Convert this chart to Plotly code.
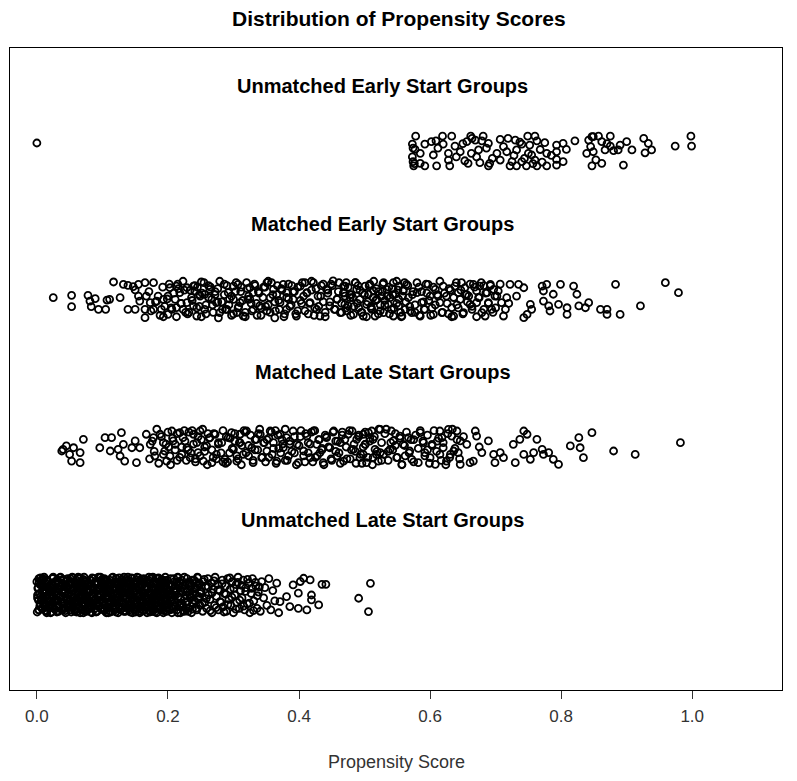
import plotly.graph_objects as go

# ---------------- data: (propensity score, vertical jitter) ----------------
group_labels = ["Unmatched Early Start Groups", "Matched Early Start Groups",
                "Matched Late Start Groups", "Unmatched Late Start Groups"]
group_pos = [4, 3, 2, 1]
label_pos = [4.44, 3.507, 2.507, 1.507]
x_ticks = [0.0, 0.2, 0.4, 0.6, 0.8, 1.0]
x_tick_text = ["0.0", "0.2", "0.4", "0.6", "0.8", "1.0"]

unmatched_early = [
 (0.000,0.054),
 (0.578,0.10),(0.619,0.10),(0.633,0.10),(0.662,0.10),(0.681,0.10),(0.749,0.10),(0.760,0.10),(0.849,0.097),(0.857,0.10),(0.875,0.10),(0.998,0.10),
 (0.573,0.047),(0.592,0.047),(0.602,0.063),(0.609,0.069),(0.620,0.047),(0.638,0.033),(0.656,0.063),(0.669,0.074),(0.679,0.069),(0.689,0.052),
 (0.707,0.078),(0.719,0.085),(0.730,0.074),(0.740,0.047),(0.763,0.069),(0.775,0.056),(0.793,0.040),(0.803,0.052),(0.821,0.069),(0.842,0.074),
 (0.847,0.097),(0.862,0.063),(0.875,0.033),(0.890,0.040),(0.900,0.063),(0.926,0.085),(0.933,0.052),(0.974,0.033),(0.999,0.033),
 (0.577,0.011),(0.585,-0.016),(0.605,-0.027),(0.628,-0.016),(0.646,-0.005),(0.663,-0.016),(0.674,0.007),(0.702,-0.016),(0.717,-0.005),(0.732,0.007),
 (0.750,-0.016),(0.755,-0.027),(0.778,-0.016),(0.793,-0.005),(0.808,0.011),(0.839,-0.016),(0.849,-0.005),(0.867,0.007),(0.880,0.002),(0.887,0.007),
 (0.908,0.007),(0.928,-0.012),(0.938,0.007),
 (0.574,-0.072),(0.585,-0.083),(0.628,-0.061),(0.653,-0.066),(0.676,-0.079),(0.691,-0.083),(0.707,-0.061),(0.725,-0.072),(0.740,-0.072),(0.760,-0.061),
 (0.793,-0.057),(0.803,-0.072),
 (0.575,-0.10),(0.592,-0.10),(0.610,-0.10),(0.630,-0.10),(0.658,-0.083),(0.689,-0.10),(0.722,-0.10),(0.732,-0.10),(0.747,-0.10),(0.763,-0.10),
 (0.778,-0.10),(0.793,-0.095),(0.847,-0.10),(0.862,-0.083),(0.895,-0.095),
 (0.573,-0.04),(0.574,0.02),(0.576,-0.085),(0.664,0.085),(0.671,-0.04),(0.686,0.02),(0.695,-0.05),(0.712,0.03),(0.728,-0.03),(0.737,0.06),
 (0.744,-0.05),(0.752,0.04),(0.757,-0.085),(0.768,0.01),(0.771,-0.075),(0.785,-0.03),(0.845,0.03),(0.853,-0.06),(0.870,0.05),(0.612,0.02),
 (0.640,-0.04),(0.650,0.05),
]

matched_early = [
 (0.025,0.009),(0.053,0.025),(0.053,-0.052),(0.078,0.025),(0.081,-0.014),(0.089,0.002),(0.083,-0.052),(0.094,-0.070),(0.105,-0.070),(0.107,-0.007),
 (0.111,-0.002),(0.127,0.009),(0.117,0.115),(0.132,0.099),(0.139,0.092),(0.147,0.083),(0.155,0.099),(0.165,0.110),(0.150,0.061),(0.155,0.020),
 (0.157,-0.014),(0.167,0.020),(0.173,-0.025),(0.165,-0.070),(0.165,-0.126),(0.139,-0.070),(0.150,-0.070),(0.178,-0.070),(0.183,-0.014),(0.193,-0.002),
 (0.190,-0.070),(0.193,-0.120),(0.200,-0.104),(0.203,0.076),(0.213,0.087),(0.218,0.043),(0.211,-0.002),(0.213,-0.058),(0.223,-0.070),(0.229,0.076),
 (0.239,0.087),(0.251,0.115),(0.241,0.054),(0.249,0.020),(0.256,0.031),(0.264,0.065),(0.229,-0.025),(0.239,-0.047),(0.244,-0.115),(0.256,-0.070),
 (0.267,-0.002),(0.274,-0.025),(0.279,-0.092),(0.277,-0.127),(0.292,0.043),(0.300,0.087),(0.307,0.099),(0.320,0.110),(0.325,0.076),(0.330,0.043),
 (0.322,-0.002),(0.300,-0.002),(0.310,-0.025),(0.290,-0.070),(0.305,-0.092),(0.315,-0.115),(0.330,-0.070),(0.340,-0.047),(0.351,0.110),(0.361,0.065),
 (0.356,0.009),(0.351,-0.081),(0.363,-0.127),(0.376,0.099),(0.381,0.043),(0.371,-0.025),(0.381,-0.070),(0.391,-0.002),(0.396,-0.115),(0.402,0.087),
 (0.412,0.043),(0.422,0.110),(0.417,-0.025),(0.427,-0.070),(0.432,-0.115),(0.442,0.065),(0.452,0.122),(0.458,-0.002),(0.447,-0.047),(0.468,0.087),
 (0.470,0.020),(0.463,-0.092),(0.475,-0.047),
 (0.200,0.02),(0.205,-0.06),(0.215,0.10),(0.220,-0.03),(0.225,0.06),(0.232,-0.09),(0.236,0.01),(0.245,0.08),(0.248,-0.05),(0.252,0.04),
 (0.258,-0.10),(0.262,0.09),(0.268,-0.04),(0.272,0.03),(0.276,0.07),(0.282,-0.02),(0.286,0.10),(0.288,-0.07),(0.294,0.00),(0.297,-0.11),
 (0.303,0.05),(0.308,-0.05),(0.312,0.08),(0.318,-0.09),(0.323,0.02),(0.327,-0.03),(0.333,0.09),(0.336,-0.11),(0.338,0.05),(0.342,-0.06),
 (0.345,0.01),(0.348,0.08),(0.353,-0.04),(0.358,0.11),(0.364,-0.08),(0.366,0.03),(0.369,-0.01),(0.373,0.07),(0.378,-0.10),(0.384,0.00),
 (0.386,-0.05),(0.389,0.09),(0.393,0.05),(0.398,-0.08),(0.404,-0.03),(0.407,0.02),(0.409,0.11),(0.414,-0.10),(0.419,0.06),(0.424,-0.06),
 (0.429,0.02),(0.434,0.09),(0.437,-0.02),(0.440,-0.09),(0.444,0.04),(0.449,0.10),(0.455,-0.07),(0.460,0.05),(0.465,-0.03),(0.472,0.11),
 (0.478,0.03),
 (0.470,0.087),(0.468,0.043),(0.478,0.009),(0.470,-0.036),(0.473,-0.081),(0.486,0.110),(0.488,0.065),(0.493,-0.002),(0.491,-0.059),(0.483,-0.104),
 (0.501,0.087),(0.506,0.032),(0.503,-0.036),(0.498,-0.115),(0.514,0.054),(0.519,-0.002),(0.511,-0.070),(0.516,-0.115),(0.529,0.110),(0.534,0.065),
 (0.526,0.020),(0.539,0.009),(0.544,0.110),(0.552,0.087),(0.547,0.032),(0.536,-0.036),(0.552,-0.047),(0.529,-0.092),(0.544,-0.115),(0.559,0.054),
 (0.564,0.099),(0.567,0.009),(0.562,-0.070),(0.572,-0.092),(0.557,-0.115),(0.580,0.043),(0.587,-0.025),(0.585,-0.115),(0.597,0.099),(0.600,0.020),
 (0.592,-0.070),(0.605,-0.104),(0.608,0.065),(0.615,-0.025),(0.620,0.087),(0.618,-0.092),(0.625,0.020),(0.633,-0.059),(0.638,0.087),(0.643,0.043),
 (0.646,-0.002),(0.636,-0.115),(0.648,0.110),(0.653,0.076),(0.659,0.020),(0.661,-0.036),(0.651,-0.092),(0.666,0.099),(0.671,0.054),(0.676,0.087),
 (0.671,-0.025),(0.679,-0.092),(0.687,0.043),(0.692,0.099),(0.697,0.065),(0.689,-0.025),(0.684,-0.115),(0.694,-0.070),(0.702,0.020),(0.704,0.054),
 (0.709,-0.025),(0.715,-0.070),(0.717,0.009),(0.712,-0.115),(0.722,0.099),(0.735,0.099),(0.743,0.076),(0.732,0.020),(0.753,-0.036),(0.755,-0.070),
 (0.748,-0.104),(0.743,-0.126),(0.771,0.087),(0.778,0.099),(0.773,0.054),(0.788,0.032),(0.799,0.099),(0.819,0.087),(0.824,0.032),(0.773,-0.014),
 (0.781,-0.047),(0.796,-0.036),(0.783,-0.081),(0.809,-0.059),(0.809,-0.104),(0.827,-0.047),(0.842,-0.025),(0.837,-0.059),(0.860,-0.070),(0.870,-0.070),
 (0.870,-0.104),(0.890,-0.104),(0.883,0.099),(0.921,-0.047),(0.959,0.110),(0.979,0.043),
 (0.480,0.03),(0.484,-0.05),(0.490,0.09),(0.495,-0.09),(0.497,0.04),(0.505,-0.02),(0.508,0.10),(0.510,-0.06),(0.513,0.01),(0.518,0.07),
 (0.521,-0.10),(0.524,-0.04),(0.527,0.05),(0.531,-0.01),(0.537,0.08),(0.541,-0.07),(0.543,0.03),(0.549,-0.03),(0.551,0.06),(0.555,-0.09),
 (0.558,0.02),(0.561,0.11),(0.569,-0.05),(0.574,0.05),(0.577,-0.09),(0.583,0.08),(0.590,-0.02),(0.595,0.04),(0.603,-0.06),(0.611,0.03),
 (0.628,-0.10),(0.631,0.06),(0.641,-0.04),(0.656,0.03),(0.664,-0.07),(0.674,0.01),(0.682,0.09),(0.700,-0.06),(0.707,0.10),(0.720,-0.03),
 (0.171,0.05),(0.174,-0.08),(0.178,0.11),(0.181,-0.02),(0.185,0.02),(0.188,-0.11),(0.192,0.08),(0.195,-0.05),(0.199,0.00),(0.202,0.10),
 (0.206,-0.07),(0.209,0.04),(0.213,-0.12),(0.216,0.07),(0.220,-0.03),(0.223,0.12),(0.227,-0.09),
 (0.230,-0.10),(0.234,0.06),(0.237,-0.01),(0.241,0.09),(0.244,-0.06),(0.248,0.03),(0.251,-0.12),(0.255,0.11),(0.258,-0.04),(0.262,0.01),
 (0.265,0.08),(0.269,-0.09),(0.272,0.05),(0.276,-0.02),(0.279,0.12),(0.283,-0.07),(0.286,0.03),
 (0.290,0.09),(0.293,-0.04),(0.297,0.02),(0.300,-0.10),(0.304,0.11),(0.307,-0.06),(0.311,0.05),(0.314,-0.01),(0.318,-0.12),(0.321,0.07),
 (0.325,0.00),(0.328,-0.08),(0.332,0.10),(0.335,-0.03),(0.339,0.04),(0.342,-0.11),(0.346,0.08),
 (0.349,-0.05),(0.353,0.12),(0.356,-0.09),(0.360,0.03),(0.363,-0.02),(0.367,0.09),(0.370,-0.07),(0.374,0.06),(0.377,-0.12),(0.381,0.01),
 (0.384,0.10),(0.388,-0.04),(0.391,0.05),(0.395,-0.10),(0.398,0.08),(0.402,-0.01),(0.405,0.11),
 (0.409,-0.08),(0.412,0.04),(0.416,-0.03),(0.419,0.12),(0.423,-0.11),(0.426,0.07),(0.430,-0.05),(0.433,0.02),(0.437,0.10),(0.440,-0.12),
 (0.444,0.06),(0.447,-0.02),(0.451,0.09),(0.454,-0.07),(0.458,0.00),(0.461,0.11),(0.465,-0.09),
 (0.468,0.04),(0.472,-0.06),(0.475,0.08),(0.479,-0.11),(0.482,0.01),(0.486,0.11),(0.489,-0.03),(0.493,0.06),(0.496,-0.09),(0.500,0.03),
 (0.503,-0.12),(0.507,0.09),(0.510,-0.05),(0.514,0.12),(0.517,-0.01),(0.521,0.05),(0.524,-0.08),
 (0.528,0.10),(0.531,-0.04),(0.535,0.02),(0.538,-0.10),(0.542,0.07),(0.545,-0.06),(0.549,0.12),(0.552,0.00),(0.556,-0.12),(0.559,0.06),
 (0.563,-0.02),(0.566,0.09),(0.570,-0.08),(0.573,0.03),(0.577,-0.04),(0.580,0.11),(0.584,-0.11),
 (0.587,0.05),(0.591,-0.07),(0.594,0.10),(0.598,-0.01),(0.601,-0.11),(0.605,0.08),(0.608,-0.04),(0.612,0.02),(0.615,0.12),(0.619,-0.09),
 (0.622,0.04),(0.626,-0.03),(0.629,0.07),(0.633,-0.12),(0.636,0.01),(0.640,0.11),(0.643,-0.06),
 (0.647,0.06),(0.650,-0.10),(0.654,0.03),(0.657,-0.02),(0.661,0.10),(0.664,-0.05),(0.668,0.08),(0.671,-0.12),(0.675,0.01),(0.678,0.11),
 (0.682,-0.07),(0.685,0.04),(0.689,-0.03),(0.692,0.09),(0.696,-0.09),(0.699,0.02),
]

matched_late = [
 (0.040,-0.016),(0.045,0.007),(0.056,-0.005),(0.038,-0.027),(0.050,-0.050),(0.066,-0.038),(0.053,-0.095),(0.066,-0.106),(0.071,0.052),(0.096,-0.005),
 (0.104,0.063),(0.114,0.063),(0.112,-0.027),(0.124,-0.016),(0.129,0.097),(0.132,0.018),(0.127,-0.061),(0.134,-0.095),(0.145,-0.005),(0.150,0.041),
 (0.152,-0.106),(0.157,-0.005),(0.167,0.086),(0.173,0.018),(0.178,0.063),(0.180,-0.061),(0.188,0.086),(0.193,0.029),(0.195,-0.027),(0.198,-0.095),
 (0.206,0.108),(0.208,0.041),(0.211,0.018),(0.203,-0.061),(0.218,0.097),(0.223,0.063),(0.221,-0.050),(0.229,-0.005),(0.234,-0.072),(0.239,0.086),
 (0.244,0.029),(0.246,-0.038),(0.249,0.108),(0.254,-0.095),(0.259,0.007),(0.264,0.063),(0.267,-0.106),(0.272,0.086),(0.274,-0.050),(0.282,0.029),
 (0.287,-0.083),(0.292,0.063),(0.297,0.097),(0.300,-0.016),(0.305,-0.095),(0.310,0.086),(0.310,0.029),(0.315,-0.050),(0.320,0.108),(0.328,-0.005),
 (0.330,-0.106),(0.335,0.052),(0.341,0.086),(0.343,-0.072),(0.351,-0.027),(0.356,0.108),(0.361,0.029),(0.366,-0.095),(0.371,0.086),(0.376,-0.005),
 (0.381,0.063),(0.384,-0.061),(0.391,0.108),(0.397,0.018),(0.399,-0.106),(0.407,-0.027),(0.412,0.074),(0.417,-0.072),(0.422,0.108),(0.427,0.018),
 (0.432,-0.038),(0.437,-0.106),(0.442,0.063),(0.447,-0.005),(0.453,0.108),(0.458,-0.061),(0.463,0.029),(0.468,-0.095),(0.475,0.086),(0.481,0.108),
 (0.483,-0.016),(0.488,0.052),(0.493,-0.072),(0.501,0.018),(0.506,0.097),
 (0.498,0.086),(0.501,0.018),(0.498,-0.050),(0.503,-0.106),(0.511,0.108),(0.513,0.052),(0.516,-0.016),(0.513,-0.072),(0.524,0.119),(0.526,0.029),
 (0.524,-0.038),(0.521,-0.095),(0.541,0.108),(0.544,0.041),(0.539,-0.016),(0.549,-0.072),(0.554,0.074),(0.559,0.018),(0.557,-0.117),(0.567,0.063),
 (0.569,-0.027),(0.572,-0.083),(0.585,0.097),(0.590,0.029),(0.592,-0.038),(0.582,-0.106),(0.600,-0.072),(0.603,0.018),(0.608,-0.117),(0.615,0.108),
 (0.618,0.063),(0.620,-0.005),(0.615,-0.050),(0.628,0.119),(0.633,0.074),(0.636,-0.027),(0.625,-0.095),(0.641,0.108),(0.646,0.041),(0.643,-0.038),
 (0.646,-0.117),(0.656,0.018),(0.661,-0.106),(0.669,0.108),(0.671,0.074),(0.679,-0.038),(0.666,-0.095),(0.689,0.041),(0.697,-0.050),(0.699,-0.106),
 (0.707,-0.038),(0.712,-0.072),(0.727,0.018),(0.730,-0.106),(0.737,0.052),(0.743,0.108),(0.748,0.086),(0.753,-0.083),(0.743,-0.050),(0.763,0.052),
 (0.758,-0.038),(0.771,-0.016),(0.773,-0.050),(0.781,-0.038),(0.788,-0.083),(0.796,-0.117),(0.814,0.007),(0.827,0.063),(0.829,-0.005),(0.834,-0.072),
 (0.847,0.097),(0.880,-0.027),(0.913,-0.050),(0.982,0.029),
 (0.201,0.00),(0.214,-0.09),(0.226,0.04),(0.231,-0.02),(0.237,0.11),(0.242,-0.08),(0.251,0.05),(0.256,-0.03),(0.261,0.09),(0.269,-0.07),
 (0.277,0.02),(0.284,-0.10),(0.289,0.07),(0.294,-0.04),(0.302,0.04),(0.307,-0.08),(0.313,0.01),(0.318,0.10),(0.323,-0.06),(0.333,-0.02),
 (0.338,0.09),(0.346,0.03),(0.349,-0.10),(0.354,0.06),(0.359,-0.05),(0.364,0.11),(0.369,-0.01),(0.374,0.05),(0.379,-0.09),(0.386,0.02),
 (0.393,-0.04),(0.402,0.07),(0.409,-0.10),(0.414,0.03),(0.419,0.10),(0.425,-0.07),(0.430,0.05),(0.435,-0.02),(0.440,0.08),(0.450,-0.09),
 (0.456,0.04),(0.461,-0.04),(0.466,0.10),(0.472,0.00),(0.478,-0.08),(0.486,-0.03),(0.491,0.07),(0.496,-0.11),(0.508,0.06),(0.518,-0.05),
 (0.531,0.09),(0.536,-0.03),(0.547,0.01),(0.562,-0.06),(0.575,0.05),(0.596,-0.02),(0.611,0.04),(0.630,-0.07),(0.651,0.07),(0.675,0.00),
 (0.172,-0.08),(0.176,0.04),(0.179,-0.03),(0.183,0.12),(0.186,-0.11),(0.190,0.07),(0.193,-0.05),(0.197,0.02),(0.200,0.10),(0.204,-0.12),
 (0.207,0.06),(0.211,-0.02),(0.214,0.09),(0.218,-0.07),(0.221,0.00),(0.225,0.11),(0.228,-0.09),
 (0.232,0.10),(0.235,-0.04),(0.239,0.02),(0.242,-0.10),(0.246,0.07),(0.249,-0.06),(0.253,0.12),(0.256,0.00),(0.260,-0.12),(0.263,0.06),
 (0.267,-0.02),(0.270,0.09),(0.274,-0.08),(0.277,0.03),(0.281,-0.04),(0.284,0.11),(0.288,-0.11),
 (0.291,-0.10),(0.295,0.06),(0.298,-0.01),(0.302,0.09),(0.305,-0.06),(0.309,0.03),(0.312,-0.12),(0.316,0.11),(0.319,-0.04),(0.323,0.01),
 (0.326,0.08),(0.330,-0.09),(0.333,0.05),(0.337,-0.02),(0.340,0.12),(0.344,-0.07),(0.347,0.03),
 (0.351,0.05),(0.354,-0.07),(0.358,0.10),(0.361,-0.01),(0.365,-0.11),(0.368,0.08),(0.372,-0.04),(0.375,0.02),(0.379,0.12),(0.382,-0.09),
 (0.386,0.04),(0.389,-0.03),(0.393,0.07),(0.396,-0.12),(0.400,0.01),(0.403,0.11),(0.407,-0.06),
 (0.410,0.09),(0.414,-0.04),(0.417,0.02),(0.421,-0.10),(0.424,0.11),(0.428,-0.06),(0.431,0.05),(0.435,-0.01),(0.438,-0.12),(0.442,0.07),
 (0.445,0.00),(0.449,-0.08),(0.452,0.10),(0.456,-0.03),(0.459,0.04),(0.463,-0.11),(0.466,0.08),
 (0.470,0.05),(0.473,-0.08),(0.477,0.11),(0.480,-0.02),(0.484,0.02),(0.487,-0.11),(0.491,0.08),(0.494,-0.05),(0.498,0.00),(0.501,0.10),
 (0.505,-0.07),(0.508,0.04),(0.512,-0.12),(0.515,0.07),(0.519,-0.03),(0.522,0.12),(0.526,-0.09),
 (0.529,-0.05),(0.533,0.12),(0.536,-0.09),(0.540,0.03),(0.543,-0.02),(0.547,0.09),(0.550,-0.07),(0.554,0.06),(0.557,-0.12),(0.561,0.01),
 (0.564,0.10),(0.568,-0.04),(0.571,0.05),(0.575,-0.10),(0.578,0.08),(0.582,-0.01),(0.585,0.11),
 (0.589,0.04),(0.592,-0.06),(0.596,0.08),(0.599,-0.11),(0.603,0.01),(0.606,0.11),(0.610,-0.03),(0.613,0.06),(0.617,-0.09),(0.620,0.03),
 (0.624,-0.12),(0.627,0.09),(0.631,-0.05),(0.634,0.12),(0.638,-0.01),(0.641,0.05),(0.645,-0.08),
]

unmatched_late = [
 (0.000,0.09),(0.001,-0.02),(0.002,0.05),(0.003,-0.10),(0.003,0.11),(0.004,0.01),(0.005,-0.06),(0.006,0.07),(0.007,-0.03),(0.007,0.10),(0.008,-0.09),(0.009,0.03),
 (0.010,0.06),(0.011,-0.05),(0.011,0.12),(0.012,-0.01),(0.013,0.08),(0.014,-0.08),(0.015,0.02),(0.015,-0.11),(0.016,0.10),(0.017,-0.04),(0.018,0.04),(0.019,-0.07),
 (0.020,-0.08),(0.020,0.03),(0.021,-0.12),(0.022,0.07),(0.023,-0.02),(0.024,0.11),(0.024,-0.05),(0.025,0.05),(0.026,-0.09),(0.027,0.01),(0.028,0.09),(0.029,-0.03),
 (0.030,0.00),(0.031,0.10),(0.032,-0.07),(0.033,0.04),(0.033,-0.11),(0.034,0.08),(0.035,-0.01),(0.036,0.12),(0.037,-0.05),(0.037,0.06),(0.038,-0.10),(0.039,0.02),
 (0.040,0.07),(0.041,-0.03),(0.041,0.10),(0.042,-0.09),(0.043,0.02),(0.044,-0.12),(0.045,0.05),(0.046,-0.04),(0.047,0.11),(0.047,-0.07),(0.048,0.00),(0.049,0.08),
 (0.050,-0.06),(0.051,0.04),(0.052,-0.10),(0.052,0.09),(0.053,-0.01),(0.054,0.12),(0.055,-0.08),(0.056,0.03),(0.057,-0.04),(0.058,0.07),(0.058,-0.11),(0.059,0.01),
 (0.060,0.10),(0.061,-0.05),(0.062,0.06),(0.063,-0.09),(0.063,0.02),(0.064,-0.02),(0.065,0.11),(0.066,-0.12),(0.067,0.04),(0.068,-0.06),(0.068,0.08),(0.069,-0.01),
 (0.070,-0.10),(0.071,0.05),(0.072,-0.03),(0.072,0.12),(0.073,-0.07),(0.074,0.00),(0.075,0.09),(0.076,-0.11),(0.077,0.03),(0.078,-0.05),(0.078,0.07),(0.079,-0.08),
 (0.080,0.02),(0.081,-0.09),(0.082,0.10),(0.083,-0.02),(0.083,0.06),(0.084,-0.12),(0.085,0.04),(0.086,-0.06),(0.087,0.11),(0.088,-0.04),(0.088,0.01),(0.089,0.08),
 (0.090,-0.07),(0.091,0.03),(0.092,-0.11),(0.092,0.09),(0.093,-0.01),(0.094,0.12),(0.095,-0.05),(0.096,0.05),(0.097,-0.09),(0.098,0.00),(0.098,0.10),(0.099,-0.03),
 (0.100,0.08),(0.101,-0.04),(0.102,0.04),(0.102,-0.10),(0.103,0.11),(0.104,-0.07),(0.105,0.01),(0.106,-0.12),(0.107,0.07),(0.107,-0.02),(0.108,0.03),(0.109,-0.08),
 (0.110,-0.01),(0.111,0.10),(0.112,-0.06),(0.113,0.06),(0.113,-0.11),(0.114,0.02),(0.115,-0.03),(0.116,0.12),(0.117,-0.09),(0.117,0.04),(0.118,-0.05),(0.119,0.09),
 (0.120,0.05),(0.121,-0.08),(0.121,0.11),(0.122,-0.02),(0.123,0.01),(0.124,-0.12),(0.125,0.08),(0.126,-0.05),(0.127,0.03),(0.127,-0.10),(0.128,0.10),(0.129,-0.04),
 (0.130,-0.09),(0.131,0.06),(0.132,-0.01),(0.133,0.12),(0.133,-0.06),(0.134,0.02),(0.135,-0.11),(0.136,0.08),(0.137,-0.03),(0.138,0.05),(0.138,-0.08),(0.139,0.10),
 (0.140,0.00),(0.141,-0.10),(0.142,0.09),(0.142,-0.04),(0.143,0.04),(0.144,-0.07),(0.145,0.11),(0.146,-0.12),(0.147,0.02),(0.148,-0.02),(0.148,0.07),(0.149,-0.06),
 (0.150,0.08),(0.151,-0.05),(0.152,0.03),(0.153,-0.09),(0.153,0.12),(0.154,-0.01),(0.155,0.05),(0.156,-0.11),(0.157,0.10),(0.157,-0.03),(0.158,0.00),(0.159,-0.08),
 (0.160,-0.04),(0.161,0.07),(0.162,-0.10),(0.163,0.01),(0.163,0.11),(0.164,-0.07),(0.165,0.04),(0.166,-0.02),(0.167,0.09),(0.168,-0.12),(0.168,0.06),(0.169,-0.05),
 (0.170,0.10),(0.171,-0.08),(0.172,0.02),(0.173,-0.03),(0.173,0.08),(0.174,-0.11),(0.175,0.05),(0.176,-0.06),(0.177,0.12),(0.178,0.00),(0.178,-0.09),(0.179,0.04),
 (0.180,-0.07),(0.181,0.09),(0.182,-0.01),(0.183,0.06),(0.183,-0.12),(0.184,0.03),(0.185,-0.05),(0.186,0.11),(0.187,-0.09),(0.188,0.01),(0.188,0.07),(0.189,-0.03),
 (0.190,0.04),(0.191,-0.10),(0.192,0.10),(0.193,-0.04),(0.193,0.00),(0.194,0.08),(0.195,-0.07),(0.196,0.12),(0.197,-0.02),(0.198,0.05),(0.198,-0.11),(0.199,0.02),
 (0.200,-0.06),(0.201,0.07),(0.202,-0.09),(0.203,0.03),(0.204,0.11),(0.205,-0.03),(0.206,-0.12),(0.207,0.06),(0.208,0.00),(0.209,-0.08),
 (0.210,0.09),(0.211,-0.05),(0.212,0.02),(0.214,-0.10),(0.215,0.12),(0.216,-0.01),(0.217,0.05),(0.218,-0.07),(0.219,0.08),(0.219,-0.12),
 (0.220,-0.03),(0.221,0.10),(0.223,-0.08),(0.224,0.04),(0.225,-0.11),(0.226,0.07),(0.227,0.00),(0.228,-0.05),(0.229,0.11),
 (0.230,0.03),(0.231,-0.09),(0.233,0.09),(0.234,-0.02),(0.235,0.06),(0.236,-0.12),(0.238,0.01),(0.239,-0.06),
 (0.240,0.10),(0.241,-0.04),(0.243,0.05),(0.244,-0.10),(0.245,0.12),(0.247,-0.01),(0.248,0.08),(0.249,-0.07),
 (0.251,0.02),(0.253,-0.11),(0.254,0.09),(0.256,-0.05),(0.258,0.06),(0.259,-0.09),(0.261,0.11),(0.262,0.00),(0.264,-0.03),(0.266,0.08),
 (0.267,-0.12),(0.269,0.04),(0.271,-0.07),(0.272,0.12),(0.274,-0.01),(0.276,0.07),(0.277,-0.10),(0.279,0.03),(0.281,-0.05),(0.283,0.10),
 (0.284,-0.08),(0.286,0.01),(0.288,0.06),(0.289,-0.11),(0.291,0.11),(0.293,-0.03),(0.295,0.04),(0.296,-0.07),(0.298,0.09),(0.300,-0.12),
 (0.302,0.00),(0.304,0.07),(0.305,-0.05),(0.307,0.12),(0.309,-0.09),(0.311,0.03),(0.313,-0.02),(0.315,0.10),(0.317,-0.10),(0.319,0.05),
 (0.321,-0.06),(0.323,0.08),(0.325,-0.12),(0.327,0.01),(0.329,0.11),(0.331,-0.04),(0.334,0.06),(0.336,-0.09),(0.338,0.02),(0.341,-0.11),
 (0.343,0.09),(0.346,-0.02),(0.348,0.05),(0.351,-0.07),(0.354,0.11),(0.357,-0.10),(0.360,0.03),(0.363,-0.04),(0.366,0.08),(0.369,-0.12),
 (0.371,-0.045),(0.381,-0.011),(0.386,-0.078),(0.391,0.068),(0.399,0.012),(0.399,-0.090),(0.402,0.091),(0.407,0.113),(0.412,-0.101),(0.417,0.102),
 (0.419,0.000),(0.419,-0.033),(0.430,-0.067),(0.435,0.072),(0.441,0.072),(0.491,-0.022),(0.506,-0.112),(0.509,0.079),
 (0.0005,-0.115),(0.0015,0.045),(0.0025,-0.035),(0.0035,0.085),(0.0045,-0.075),(0.0055,0.115),(0.0065,-0.005),(0.0075,0.065),(0.0085,-0.095),(0.0095,0.025),
 (0.0105,0.105),(0.0115,-0.055),(0.0125,0.015),(0.0135,-0.105),(0.0145,0.055),(0.0155,-0.025),(0.0165,0.095),(0.0175,-0.085),(0.0185,0.035),(0.0195,-0.045),
 (0.0205,-0.065),(0.0215,0.075),(0.0225,-0.115),(0.0235,0.005),(0.0245,0.115),(0.0255,-0.015),(0.0265,0.045),(0.0275,-0.095),(0.0285,0.085),(0.0295,-0.035),
 (0.0305,-0.115),(0.0315,0.045),(0.0325,-0.035),(0.0335,0.085),(0.0345,-0.075),(0.0355,0.115),(0.0365,-0.005),(0.0375,0.065),(0.0385,-0.095),(0.0395,0.025),
 (0.0405,0.105),(0.0415,-0.055),(0.0425,0.015),(0.0435,-0.105),(0.0445,0.055),(0.0455,-0.025),(0.0465,0.095),(0.0475,-0.085),(0.0485,0.035),(0.0495,-0.045),
 (0.0505,-0.065),(0.0515,0.075),(0.0525,-0.115),(0.0535,0.005),(0.0545,0.115),(0.0555,-0.015),(0.0565,0.045),(0.0575,-0.095),(0.0585,0.085),(0.0595,-0.035),
 (0.0605,-0.115),(0.0615,0.045),(0.0625,-0.035),(0.0635,0.085),(0.0645,-0.075),(0.0655,0.115),(0.0665,-0.005),(0.0675,0.065),(0.0685,-0.095),(0.0695,0.025),
 (0.0705,0.105),(0.0715,-0.055),(0.0725,0.015),(0.0735,-0.105),(0.0745,0.055),(0.0755,-0.025),(0.0765,0.095),(0.0775,-0.085),(0.0785,0.035),(0.0795,-0.045),
 (0.0805,-0.065),(0.0815,0.075),(0.0825,-0.115),(0.0835,0.005),(0.0845,0.115),(0.0855,-0.015),(0.0865,0.045),(0.0875,-0.095),(0.0885,0.085),(0.0895,-0.035),
 (0.0905,-0.115),(0.0915,0.045),(0.0925,-0.035),(0.0935,0.085),(0.0945,-0.075),(0.0955,0.115),(0.0965,-0.005),(0.0975,0.065),(0.0985,-0.095),(0.0995,0.025),
 (0.1005,0.105),(0.1015,-0.055),(0.1025,0.015),(0.1035,-0.105),(0.1045,0.055),(0.1055,-0.025),(0.1065,0.095),(0.1075,-0.085),(0.1085,0.035),(0.1095,-0.045),
 (0.1105,-0.065),(0.1115,0.075),(0.1125,-0.115),(0.1135,0.005),(0.1145,0.115),(0.1155,-0.015),(0.1165,0.045),(0.1175,-0.095),(0.1185,0.085),(0.1195,-0.035),
 (0.1205,-0.115),(0.1215,0.045),(0.1225,-0.035),(0.1235,0.085),(0.1245,-0.075),(0.1255,0.115),(0.1265,-0.005),(0.1275,0.065),(0.1285,-0.095),(0.1295,0.025),
 (0.1305,0.105),(0.1315,-0.055),(0.1325,0.015),(0.1335,-0.105),(0.1345,0.055),(0.1355,-0.025),(0.1365,0.095),(0.1375,-0.085),(0.1385,0.035),(0.1395,-0.045),
 (0.1405,-0.065),(0.1415,0.075),(0.1425,-0.115),(0.1435,0.005),(0.1445,0.115),(0.1455,-0.015),(0.1465,0.045),(0.1475,-0.095),(0.1485,0.085),(0.1495,-0.035),
 (0.1505,-0.115),(0.1515,0.045),(0.1525,-0.035),(0.1535,0.085),(0.1545,-0.075),(0.1555,0.115),(0.1565,-0.005),(0.1575,0.065),(0.1585,-0.095),(0.1595,0.025),
 (0.1605,0.105),(0.1615,-0.055),(0.1625,0.015),(0.1635,-0.105),(0.1645,0.055),(0.1655,-0.025),(0.1665,0.095),(0.1675,-0.085),(0.1685,0.035),(0.1695,-0.045),
 (0.1705,-0.065),(0.1715,0.075),(0.1725,-0.115),(0.1735,0.005),(0.1745,0.115),(0.1755,-0.015),(0.1765,0.045),(0.1775,-0.095),(0.1785,0.085),(0.1795,-0.035),
 (0.1805,-0.115),(0.1815,0.045),(0.1825,-0.035),(0.1835,0.085),(0.1845,-0.075),(0.1855,0.115),(0.1865,-0.005),(0.1875,0.065),(0.1885,-0.095),(0.1895,0.025),
 (0.1905,0.105),(0.1915,-0.055),(0.1925,0.015),(0.1935,-0.105),(0.1945,0.055),(0.1955,-0.025),(0.1965,0.095),(0.1975,-0.085),(0.1985,0.035),(0.1995,-0.045),
 (0.2015,0.075),(0.2035,0.005),(0.2055,-0.015),(0.2075,-0.095),(0.2095,-0.035),
 (0.2115,0.045),(0.2135,0.085),(0.2155,0.115),(0.2175,0.065),(0.2195,0.025),
 (0.2215,-0.055),(0.2235,-0.105),(0.2255,-0.025),(0.2275,-0.085),(0.2295,-0.045),
 (0.2315,0.075),(0.2335,0.005),(0.2355,-0.015),(0.2375,-0.095),(0.2395,-0.035),
 (0.2415,0.045),(0.2435,0.085),(0.2455,0.115),(0.2475,0.065),(0.2495,0.025),
 (0.2525,-0.055),(0.2555,0.105),(0.2585,-0.025),(0.2615,0.055),(0.2645,-0.105),(0.2675,0.015),(0.2705,0.095),(0.2735,-0.085),(0.2765,0.035),(0.2795,-0.045),
 (0.2825,0.075),(0.2855,-0.115),(0.2885,0.005),(0.2915,-0.065),(0.2945,0.115),(0.2975,-0.015),(0.3005,0.045),(0.3035,-0.095),(0.3065,0.085),(0.3095,-0.035),
 (0.3125,0.065),(0.3155,-0.075),(0.3185,0.025),(0.3215,0.105),(0.3245,-0.055),(0.3275,0.045),(0.3305,-0.105),(0.3335,0.085),(0.3365,-0.005),(0.3395,0.055),
 (0.001,0.00),(0.003,-0.10),(0.005,0.07),(0.007,-0.04),(0.009,0.11),(0.011,-0.07),(0.013,0.03),(0.015,-0.12),(0.017,0.09),(0.019,-0.02),
 (0.021,0.05),(0.023,-0.08),(0.025,0.12),(0.027,-0.05),(0.029,0.02),(0.031,-0.11),(0.033,0.08),(0.035,-0.01),(0.037,0.10),(0.039,-0.06),
 (0.041,0.04),(0.043,-0.09),(0.045,0.06),(0.047,-0.03),(0.049,0.01),(0.051,0.11),(0.053,-0.05),(0.055,0.03),(0.057,-0.10),(0.059,0.08),
 (0.061,-0.02),(0.063,0.12),(0.065,-0.08),(0.067,0.00),(0.069,0.06),(0.071,-0.12),(0.073,0.09),(0.075,-0.04),(0.077,0.02),(0.079,-0.09),
 (0.081,0.10),(0.083,-0.06),(0.085,0.05),(0.087,-0.01),(0.089,0.07),(0.091,-0.11),(0.093,0.04),(0.095,-0.07),(0.097,0.12),(0.099,-0.03),
 (0.101,-0.09),(0.103,0.06),(0.105,-0.02),(0.107,0.10),(0.109,-0.12),(0.111,0.03),(0.113,-0.06),(0.115,0.08),(0.117,0.00),(0.119,-0.10),
 (0.121,0.11),(0.123,-0.04),(0.125,0.05),(0.127,-0.08),(0.129,0.01),(0.131,0.09),(0.133,-0.11),(0.135,0.04),(0.137,-0.02),(0.139,0.12),
 (0.141,-0.07),(0.143,0.07),(0.145,-0.03),(0.147,0.02),(0.149,-0.10),(0.151,0.10),(0.153,-0.05),(0.155,0.06),(0.157,-0.12),(0.159,0.03),
 (0.161,-0.01),(0.163,0.09),(0.165,-0.08),(0.167,0.05),(0.169,-0.03),(0.171,0.12),(0.173,-0.06),(0.175,0.01),(0.177,-0.11),(0.179,0.08),
 (0.181,-0.02),(0.183,0.11),(0.185,-0.09),(0.187,0.04),(0.189,-0.05),(0.191,0.07),(0.193,-0.12),(0.195,0.02),(0.197,-0.07),(0.199,0.10),
 (0.201,0.00),(0.203,-0.10),(0.205,0.07),(0.207,-0.04),(0.209,0.11),(0.211,-0.07),(0.213,0.03),(0.215,-0.12),(0.217,0.09),(0.219,-0.02),
 (0.221,0.05),(0.223,-0.08),(0.225,0.12),(0.227,-0.05),(0.229,0.02),(0.231,-0.11),(0.233,0.08),(0.235,-0.01),(0.237,0.10),(0.239,-0.06),
 (0.241,0.04),(0.243,-0.09),(0.245,0.06),(0.247,-0.03),(0.249,0.01),
]

groups = [unmatched_early, matched_early, matched_late, unmatched_late]

# ---------------- figure ----------------
FONT = "Liberation Sans, Arial, sans-serif"
fig = go.Figure()
for pts, gy in zip(groups, group_pos):
    xs = [p[0] for p in pts]
    ys = [gy + p[1] for p in pts]
    fig.add_trace(go.Scatter(
        x=xs, y=ys, mode="markers", showlegend=False, hoverinfo="skip",
        marker=dict(symbol="circle-open", size=7, color="black",
                    line=dict(color="black", width=1.8)),
    ))

for txt, ly in zip(group_labels, label_pos):
    fig.add_annotation(x=0.528, y=ly, xref="x", yref="y", text="<b>%s</b>" % txt,
                       showarrow=False, font=dict(family=FONT, size=20, color="black"),
                       xanchor="center", yanchor="middle")

fig.add_annotation(x=0.5, y=-0.112, xref="paper", yref="paper", text="Propensity Score",
                   showarrow=False, font=dict(family=FONT, size=18, color="#333333"),
                   xanchor="center", yanchor="middle")

# chart title placed just above the plot frame
fig.add_annotation(x=0.504, y=1.0, xref="paper", yref="paper",
                   text="<b>Distribution of Propensity Scores</b>",
                   showarrow=False, font=dict(family=FONT, size=21, color="black"),
                   xanchor="center", yanchor="bottom", yshift=16)

fig.update_layout(
    width=797, height=781,
    margin=dict(l=2, r=23, t=40, b=99),
    paper_bgcolor="white", plot_bgcolor="white",
    xaxis=dict(range=[-0.041, 1.137], tickvals=x_ticks, ticktext=x_tick_text,
               ticks="outside", ticklen=8, tickwidth=1.2, tickcolor="#333333",
               showgrid=False, zeroline=False, showline=True, mirror=True,
               linecolor="black", linewidth=1.3, ticklabelstandoff=2,
               tickfont=dict(family=FONT, size=17, color="#333333")),
    yaxis=dict(range=[0.358, 4.696], showticklabels=False, ticks="",
               showgrid=False, zeroline=False, showline=True, mirror=True,
               linecolor="black", linewidth=1.3),
)

fig.write_html("out.html")
